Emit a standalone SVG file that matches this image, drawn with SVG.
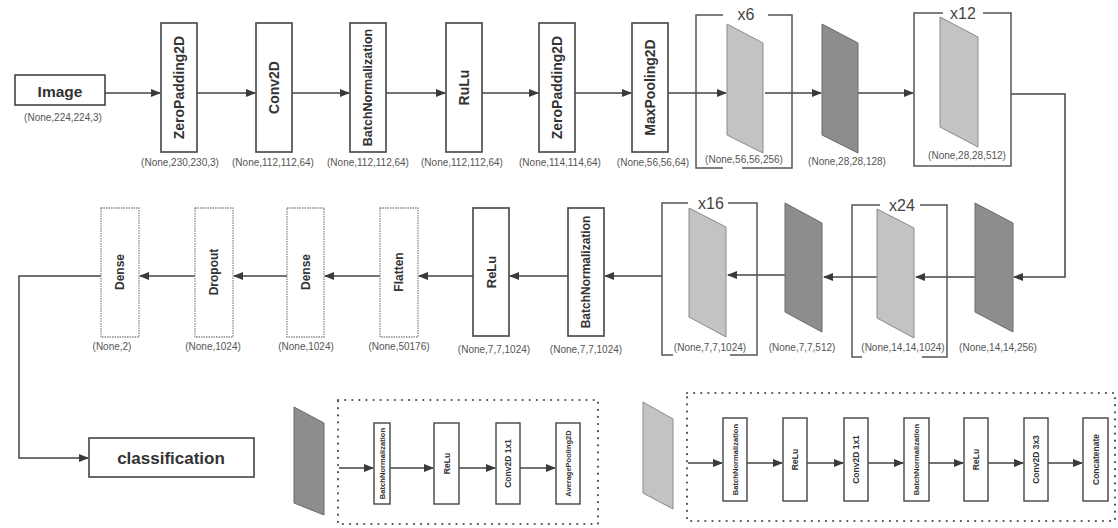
<svg xmlns="http://www.w3.org/2000/svg" width="1118" height="528" viewBox="0 0 1118 528">
<defs>
<marker id="ah" viewBox="0 0 10 8" refX="9" refY="4" markerWidth="10" markerHeight="8" markerUnits="userSpaceOnUse" orient="auto">
<path d="M0,0 L10,4 L0,8 Z" fill="#3a3a3a"/>
</marker>
<style>
text{font-family:"Liberation Sans",Arial,sans-serif;fill:#333}
.box{fill:#fff;stroke:#444;stroke-width:1.6}
.dbox{fill:#fff;stroke:#8a8a8a;stroke-width:1.3;stroke-dasharray:1.5 1}
.sbox{fill:#fff;stroke:#444;stroke-width:1.4}
.vt{font-weight:bold;text-anchor:middle;dominant-baseline:central}
.lbl{font-size:10px;fill:#555;text-anchor:middle}
.light{fill:#c3c3c3;stroke:#8a8a8a;stroke-width:1}
.dark{fill:#8d8d8d;stroke:#6a6a6a;stroke-width:1}
.conn{stroke:#444;stroke-width:1.5;fill:none}
.brk{stroke:#555;stroke-width:1.5;fill:none}
.dot{fill:none;stroke:#555;stroke-width:2.2;stroke-dasharray:0.1 7;stroke-linecap:round}
.rep{font-size:16px;text-anchor:middle;fill:#444}
</style>
</defs>

<g id="connectors">
<line class="conn" x1="105" y1="93" x2="160" y2="93" marker-end="url(#ah)"/>
<line class="conn" x1="197" y1="93" x2="255" y2="93" marker-end="url(#ah)"/>
<line class="conn" x1="292" y1="93" x2="349" y2="93" marker-end="url(#ah)"/>
<line class="conn" x1="386" y1="93" x2="445" y2="93" marker-end="url(#ah)"/>
<line class="conn" x1="482" y1="93" x2="538" y2="93" marker-end="url(#ah)"/>
<line class="conn" x1="575" y1="93" x2="631" y2="93" marker-end="url(#ah)"/>
<line class="conn" x1="668" y1="93" x2="726" y2="93" marker-end="url(#ah)"/>
<line class="conn" x1="765" y1="93" x2="821" y2="93" marker-end="url(#ah)"/>
<line class="conn" x1="858" y1="93" x2="913" y2="93" marker-end="url(#ah)"/>
<polyline class="conn" points="1011,94 1065,94 1065,277 1014,277" marker-end="url(#ah)"/>
<line class="conn" x1="975" y1="277" x2="916" y2="277" marker-end="url(#ah)"/>
<line class="conn" x1="877" y1="277" x2="824" y2="277" marker-end="url(#ah)"/>
<line class="conn" x1="785" y1="275" x2="728" y2="275" marker-end="url(#ah)"/>
<line class="conn" x1="662" y1="276" x2="605" y2="276" marker-end="url(#ah)"/>
<line class="conn" x1="568" y1="276" x2="510" y2="276" marker-end="url(#ah)"/>
<line class="conn" x1="473" y1="276" x2="419" y2="276" marker-end="url(#ah)"/>
<line class="conn" x1="380" y1="276" x2="325" y2="276" marker-end="url(#ah)"/>
<line class="conn" x1="287" y1="276" x2="234" y2="276" marker-end="url(#ah)"/>
<line class="conn" x1="195" y1="276" x2="140" y2="276" marker-end="url(#ah)"/>
<polyline class="conn" points="101,276 19,276 19,458 88,458" marker-end="url(#ah)"/>
<line class="conn" x1="339" y1="468" x2="373" y2="468" marker-end="url(#ah)"/>
<line class="conn" x1="390" y1="468" x2="433" y2="468" marker-end="url(#ah)"/>
<line class="conn" x1="459" y1="468" x2="495" y2="468" marker-end="url(#ah)"/>
<line class="conn" x1="520" y1="468" x2="555" y2="468" marker-end="url(#ah)"/>
<line class="conn" x1="688" y1="463" x2="722" y2="463" marker-end="url(#ah)"/>
<line class="conn" x1="747" y1="463" x2="782" y2="463" marker-end="url(#ah)"/>
<line class="conn" x1="807" y1="463" x2="843" y2="463" marker-end="url(#ah)"/>
<line class="conn" x1="868" y1="463" x2="903" y2="463" marker-end="url(#ah)"/>
<line class="conn" x1="929" y1="463" x2="963" y2="463" marker-end="url(#ah)"/>
<line class="conn" x1="988" y1="463" x2="1023" y2="463" marker-end="url(#ah)"/>
<line class="conn" x1="1048" y1="463" x2="1082" y2="463" marker-end="url(#ah)"/>
</g>

<g id="image">
<rect class="box" x="15" y="75" width="90" height="30"/>
<text x="60" y="91" class="vt" font-size="15.5">Image</text>
<text x="63" y="121" class="lbl">(None,224,224,3)</text>
</g>

<g id="zeropadding1">
<rect class="box" x="161" y="23" width="36" height="129"/>
<text class="vt" font-size="14" transform="translate(179,87.5) rotate(-90)">ZeroPadding2D</text>
<text x="180" y="166" class="lbl">(None,230,230,3)</text>
</g>
<g id="conv2d">
<rect class="box" x="256" y="23" width="36" height="129"/>
<text class="vt" font-size="14" transform="translate(274,87.5) rotate(-90)">Conv2D</text>
<text x="273" y="166" class="lbl">(None,112,112,64)</text>
</g>
<g id="batchnorm1">
<rect class="box" x="350" y="23" width="36" height="129"/>
<text class="vt" font-size="12.5" transform="translate(368,87.5) rotate(-90)">BatchNormalization</text>
<text x="368" y="166" class="lbl">(None,112,112,64)</text>
</g>
<g id="rulu">
<rect class="box" x="446" y="23" width="36" height="129"/>
<text class="vt" font-size="14" transform="translate(464,87.5) rotate(-90)">RuLu</text>
<text x="462" y="166" class="lbl">(None,112,112,64)</text>
</g>
<g id="zeropadding2">
<rect class="box" x="539" y="23" width="36" height="129"/>
<text class="vt" font-size="14" transform="translate(557,87.5) rotate(-90)">ZeroPadding2D</text>
<text x="560" y="166" class="lbl">(None,114,114,64)</text>
</g>
<g id="maxpooling">
<rect class="box" x="632" y="23" width="36" height="129"/>
<text class="vt" font-size="14" transform="translate(650,87.5) rotate(-90)">MaxPooling2D</text>
<text x="653" y="166" class="lbl">(None,56,56,64)</text>
</g>

<g id="dense-block-x6">
<path class="brk" d="M723,15 H696 V168 H723 M768,15 H792 V168 H742"/>
<text x="746" y="20" class="rep">x6</text>
<polygon class="light" points="727,24 763,43 763,153 727,135"/>
<text x="744" y="163" class="lbl">(None,56,56,256)</text>
</g>
<g id="transition1">
<polygon class="dark" points="822,24 858,43 858,153 822,135"/>
<text x="847" y="165" class="lbl">(None,28,28,128)</text>
</g>
<g id="dense-block-x12">
<path class="brk" d="M943,13 H914 V166 H1011 V13 H983"/>
<text x="963" y="19" class="rep">x12</text>
<polygon class="light" points="940,17 978,37 978,147 940,127"/>
<text x="967" y="159" class="lbl">(None,28,28,512)</text>
</g>

<g id="transition2">
<polygon class="dark" points="975,203 1013,223 1013,332 975,312"/>
<text x="998" y="351" class="lbl">(None,14,14,256)</text>
</g>
<g id="dense-block-x24">
<path class="brk" d="M880,205 H852 V357 H862 M920,205 H947 V357 H922"/>
<text x="902" y="211" class="rep">x24</text>
<polygon class="light" points="877,209 914,228 914,338 877,318"/>
<text x="903" y="351" class="lbl">(None,14,14,1024)</text>
</g>
<g id="transition3">
<polygon class="dark" points="785,203 822,223 822,332 785,312"/>
<text x="802" y="351" class="lbl">(None,7,7,512)</text>
</g>
<g id="dense-block-x16">
<path class="brk" d="M688,203 H662 V355 H673 M728,203 H757 V355 H730"/>
<text x="711" y="209" class="rep">x16</text>
<polygon class="light" points="689,208 726,227 726,337 689,317"/>
<text x="710" y="351" class="lbl">(None,7,7,1024)</text>
</g>

<g id="batchnorm2">
<rect class="box" x="568" y="208" width="36" height="128"/>
<text class="vt" font-size="12" transform="translate(586,272) rotate(-90)">BatchNormalization</text>
<text x="586" y="353" class="lbl">(None,7,7,1024)</text>
</g>
<g id="relu2">
<rect class="box" x="473" y="208" width="36" height="128"/>
<text class="vt" font-size="13" transform="translate(491,272) rotate(-90)">ReLu</text>
<text x="494" y="353" class="lbl">(None,7,7,1024)</text>
</g>
<g id="flatten">
<rect class="dbox" x="380" y="208" width="38" height="129"/>
<text class="vt" font-size="12" transform="translate(399,272) rotate(-90)">Flatten</text>
<text x="399" y="350" class="lbl">(None,50176)</text>
</g>
<g id="dense1">
<rect class="dbox" x="287" y="208" width="37" height="129"/>
<text class="vt" font-size="12" transform="translate(305.5,272) rotate(-90)">Dense</text>
<text x="306" y="350" class="lbl">(None,1024)</text>
</g>
<g id="dropout">
<rect class="dbox" x="195" y="208" width="38" height="129"/>
<text class="vt" font-size="12" transform="translate(214,272) rotate(-90)">Dropout</text>
<text x="213" y="350" class="lbl">(None,1024)</text>
</g>
<g id="dense2">
<rect class="dbox" x="101" y="208" width="38" height="129"/>
<text class="vt" font-size="12" transform="translate(120,272) rotate(-90)">Dense</text>
<text x="112" y="350" class="lbl">(None,2)</text>
</g>

<g id="classification">
<rect class="box" x="89" y="438" width="165" height="39"/>
<text x="171" y="458" class="vt" font-size="17">classification</text>
</g>

<g id="transition-detail">
<polygon class="dark" points="294,407 324,423 324,515 294,503"/>
<rect class="dot" x="338" y="400" width="260" height="124"/>
<rect class="sbox" x="374" y="423" width="16" height="81"/>
<text class="vt" font-size="7.6" transform="translate(382,463.5) rotate(-90)">BatchNormalization</text>
<rect class="sbox" x="434" y="423" width="25" height="81"/>
<text class="vt" font-size="8.5" transform="translate(446.5,463.5) rotate(-90)">ReLu</text>
<rect class="sbox" x="496" y="423" width="24" height="81"/>
<text class="vt" font-size="8.5" transform="translate(508,463.5) rotate(-90)">Conv2D 1x1</text>
<rect class="sbox" x="556" y="423" width="24" height="81"/>
<text class="vt" font-size="7.5" transform="translate(568,463.5) rotate(-90)">AveragePooling2D</text>
</g>

<g id="dense-detail">
<polygon class="light" points="643,402 673,419 673,509 643,493"/>
<rect class="dot" x="687" y="393" width="428" height="128"/>
<rect class="sbox" x="723" y="418" width="24" height="83"/>
<text class="vt" font-size="7.6" transform="translate(735,459.5) rotate(-90)">BatchNormalization</text>
<rect class="sbox" x="783" y="418" width="24" height="83"/>
<text class="vt" font-size="8.5" transform="translate(795,459.5) rotate(-90)">ReLu</text>
<rect class="sbox" x="844" y="418" width="24" height="83"/>
<text class="vt" font-size="8.5" transform="translate(856,459.5) rotate(-90)">Conv2D 1x1</text>
<rect class="sbox" x="904" y="418" width="25" height="83"/>
<text class="vt" font-size="7.6" transform="translate(916.5,459.5) rotate(-90)">BatchNormalization</text>
<rect class="sbox" x="964" y="418" width="24" height="83"/>
<text class="vt" font-size="8.5" transform="translate(976,459.5) rotate(-90)">ReLu</text>
<rect class="sbox" x="1024" y="418" width="24" height="83"/>
<text class="vt" font-size="8.5" transform="translate(1036,459.5) rotate(-90)">Conv2D 3x3</text>
<rect class="sbox" x="1083" y="418" width="25" height="83"/>
<text class="vt" font-size="8.5" transform="translate(1095.5,459.5) rotate(-90)">Concatenate</text>
</g>
</svg>
